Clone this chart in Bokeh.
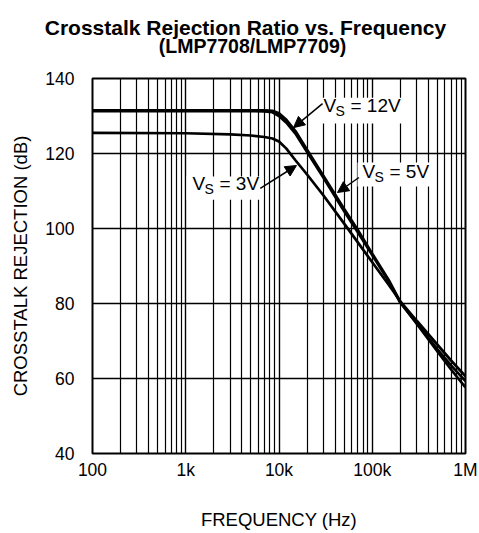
from bokeh.plotting import figure
from bokeh.layouts import column
from bokeh.models import (Range1d, FixedTicker, Label, Arrow, NormalHead,
                          ColumnDataSource, BoxAnnotation)
from bokeh.embed import file_html
from bokeh.resources import INLINE

# ---- data ----
freq = [100, 1000, 3000, 5000, 7000, 8500, 10000, 12000, 15000, 20000, 30000,
        50000, 70000, 100000, 150000, 200000, 300000, 500000, 700000, 1000000]
vs12 = [131.5, 131.5, 131.5, 131.5, 131.5, 131.4, 130.7, 129.0, 126.0, 121.0, 114.0,
        105.2, 99.6, 93.3, 86.3, 80.4, 74.6, 67.2, 62.4, 57.6]
vs5 = [131.3, 131.3, 131.3, 131.3, 131.2, 131.0, 130.0, 128.2, 125.3, 120.4, 113.5,
       104.6, 99.0, 92.9, 85.9, 80.2, 74.7, 67.8, 63.5, 59.3]
vs3 = [125.5, 125.4, 125.1, 124.8, 124.4, 124.0, 123.2, 121.3, 118.2, 114.4, 108.8,
       101.3, 96.3, 91.0, 85.0, 80.6, 75.4, 69.0, 64.8, 60.6]

x_ticks = [100, 1000, 10000, 100000, 1000000]
x_tick_labels = ["100", "1k", "10k", "100k", "1M"]
y_ticks = [40, 60, 80, 100, 120, 140]

title_lines = ["Crosstalk Rejection Ratio vs. Frequency", "(LMP7708/LMP7709)"]
x_label = "FREQUENCY (Hz)"
y_label = "CROSSTALK REJECTION (dB)"

FONT = "Liberation Sans"

minor = []
for d in x_ticks[:-1]:
    for m in range(2, 10):
        minor.append(d * m)

# ---- title strip ----
TW, TH = 479, 68
tfig = figure(width=TW, height=TH, x_range=Range1d(0, TW), y_range=Range1d(TH, 0),
              output_backend="svg", toolbar_location=None, title=None,
              x_axis_location=None, y_axis_location=None, min_border=0)
tfig.frame_align = False
tfig.outline_line_color = None
tfig.grid.visible = False
tfig.background_fill_color = "white"
tfig.border_fill_color = "white"
for (t, cx, by, fs) in zip(title_lines, [245, 252], [27, 45], ["21px", "19.5px"]):
    tfig.add_layout(Label(x=cx, y=by, text=t, text_align="center",
                          text_baseline="alphabetic", text_font=FONT,
                          text_font_style="bold", text_font_size=fs,
                          text_color="black"))

# ---- main chart ----
p = figure(width=479, height=465, x_axis_type="log",
           x_range=Range1d(100, 1e6), y_range=Range1d(40, 140),
           output_backend="svg", toolbar_location=None, title=None,
           min_border_left=92, min_border_right=14,
           min_border_top=10, min_border_bottom=80)
p.frame_align = False
p.background_fill_color = "white"
p.border_fill_color = "white"
p.outline_line_color = "black"
p.outline_line_width = 2

p.xaxis.ticker = FixedTicker(ticks=x_ticks, minor_ticks=minor)
p.xaxis.major_label_overrides = {t: l for t, l in zip(x_ticks, x_tick_labels)}
p.yaxis.ticker = FixedTicker(ticks=y_ticks)

for ax in (p.xaxis[0], p.yaxis[0]):
    ax.axis_line_color = None
    ax.major_tick_line_color = None
    ax.minor_tick_line_color = None
    ax.major_label_text_font = FONT
    ax.major_label_text_font_size = "17.5px"
    ax.major_label_text_color = "black"
    ax.axis_label_text_font = FONT
    ax.axis_label_text_font_size = "18.5px"
    ax.axis_label_text_font_style = "normal"
    ax.axis_label_text_color = "black"

p.xaxis.axis_label = x_label
p.yaxis.axis_label = y_label
p.xaxis.major_label_standoff = 0
p.xaxis.axis_label_standoff = 26
p.yaxis.major_label_standoff = 12
p.yaxis.axis_label_standoff = 11

p.xgrid.grid_line_color = "black"
p.xgrid.grid_line_width = 1.4
p.xgrid.minor_grid_line_color = "black"
p.xgrid.minor_grid_line_width = 1.2
p.ygrid.grid_line_color = "black"
p.ygrid.grid_line_width = 1.4

src = ColumnDataSource(dict(freq=freq, vs12=vs12, vs5=vs5, vs3=vs3))
for col in ("vs12", "vs5", "vs3"):
    p.line("freq", col, source=src, line_color="black", line_width=2.7)

# ---- annotations ----
def white_box(l, r, b, t):
    p.add_layout(BoxAnnotation(left=l, right=r, bottom=b, top=t,
                               fill_color="white", fill_alpha=1.0,
                               line_color=None, level="overlay"))

def vs_label(x, y, rest):
    kw = dict(text_font=FONT, text_color="black", level="overlay")
    p.add_layout(Label(x=x, y=y, text="V", text_font_size="19px", **kw))
    p.add_layout(Label(x=x, y=y, x_offset=12, y_offset=-3, text="S",
                       text_font_size="14px", **kw))
    p.add_layout(Label(x=x, y=y, x_offset=27, text=rest, text_font_size="19px", **kw))

def arrow(x0, y0, x1, y1):
    p.add_layout(Arrow(x_start=x0, y_start=y0, x_end=x1, y_end=y1,
                       line_color="black", line_width=1.5, level="overlay",
                       end=NormalHead(size=11, fill_color="black", line_color="black")))

white_box(26500, 227000, 128.0, 134.9)
white_box(1020, 6800, 107.7, 113.9)
white_box(69500, 465000, 111.2, 117.6)

arrow(29300, 133.3, 14300, 126.9)
arrow(6300, 110.7, 15400, 116.8)
arrow(72000, 113.6, 42400, 109.6)
vs_label(30000, 130.1, "= 12V")
vs_label(1180, 109.1, "= 3V")
vs_label(78500, 112.3, "= 5V")

layout = column(tfig, p, spacing=0)
open("out.html", "w").write(file_html(layout, INLINE))
